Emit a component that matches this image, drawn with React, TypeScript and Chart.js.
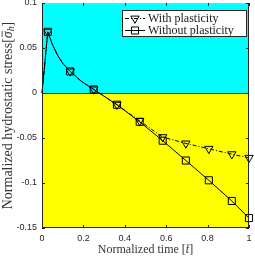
import React, { useEffect, useRef } from 'react';
import { Chart, registerables } from 'chart.js';

Chart.register(...registerables);

const timeValues = [0, 0.028, 0.05, 0.075, 0.1, 0.136, 0.19, 0.25, 0.362, 0.472, 0.583, 0.695, 0.806, 0.917, 1.0];
const withPlasticity = [0, 0.068, 0.054, 0.042, 0.033, 0.024, 0.013, 0.004, -0.013, -0.031, -0.049, -0.056, -0.062, -0.068, -0.072];
const withoutPlasticity = [0, 0.068, 0.054, 0.042, 0.033, 0.024, 0.013, 0.004, -0.013, -0.032, -0.053, -0.075, -0.097, -0.12, -0.139];
const markerIndices = [1, 5, 7, 8, 9, 10, 11, 12, 13, 14];
const seriesLabels = ['With plasticity', 'Without plasticity'];
const xTickValues = [0, 0.2, 0.4, 0.6, 0.8, 1];
const xTickLabels = ['0', '0.2', '0.4', '0.6', '0.8', '1'];
const yTickValues = [-0.15, -0.1, -0.05, 0, 0.05, 0.1];
const yTickLabels = ['-0.15', '-0.1', '-0.05', '0', '0.05', '0.1'];

const SERIF = '"Liberation Serif", serif';
const SANS = '"Liberation Sans", Arial, sans-serif';

type Piece = { text: string; italic?: boolean; bar?: boolean; sub?: boolean };

function drawPieces(ctx: CanvasRenderingContext2D, pieces: Piece[], size: number, cx: number, cy: number) {
  const fontFor = (p: Piece) => `${p.italic ? 'italic ' : ''}${p.sub ? size * 0.7 : size}px ${SERIF}`;
  let total = 0;
  const widths = pieces.map((p) => {
    ctx.font = fontFor(p);
    const w = ctx.measureText(p.text).width;
    total += w;
    return w;
  });
  let x = cx - total / 2;
  ctx.textBaseline = 'middle';
  ctx.textAlign = 'left';
  pieces.forEach((p, i) => {
    ctx.font = fontFor(p);
    const y = cy + (p.sub ? size * 0.25 : 0);
    ctx.fillText(p.text, x, y);
    if (p.bar) {
      ctx.save();
      ctx.lineWidth = 0.8;
      ctx.beginPath();
      ctx.moveTo(x + 1, cy - size * 0.42);
      ctx.lineTo(x + widths[i] + 0.5, cy - size * 0.42);
      ctx.stroke();
      ctx.restore();
    }
    x += widths[i];
  });
}

function drawMarker(ctx: CanvasRenderingContext2D, style: string, r: number, x: number, y: number) {
  ctx.beginPath();
  if (style === 'triangle') {
    const h = r;
    const w = r * Math.sqrt(3) / 2;
    ctx.moveTo(x - w, y - h / 2);
    ctx.lineTo(x + w, y - h / 2);
    ctx.lineTo(x, y + h);
    ctx.closePath();
  } else {
    const s = r * Math.SQRT1_2;
    ctx.rect(x - s, y - s, 2 * s, 2 * s);
  }
  ctx.stroke();
}

const backgroundPlugin = {
  id: 'bgRegions',
  beforeDatasetsDraw(chart: any) {
    const { ctx, chartArea, scales } = chart;
    const y0 = scales.y.getPixelForValue(0);
    ctx.save();
    ctx.fillStyle = '#00ffff';
    ctx.fillRect(chartArea.left, chartArea.top, chartArea.right - chartArea.left, y0 - chartArea.top);
    ctx.fillStyle = '#ffff00';
    ctx.fillRect(chartArea.left, y0, chartArea.right - chartArea.left, chartArea.bottom - y0);
    ctx.strokeStyle = '#3a3a3a';
    ctx.lineWidth = 1;
    ctx.beginPath();
    ctx.moveTo(chartArea.left, Math.round(y0) + 0.5);
    ctx.lineTo(chartArea.right, Math.round(y0) + 0.5);
    ctx.stroke();
    ctx.restore();
  },
};

const framePlugin = {
  id: 'frame',
  afterDatasetsDraw(chart: any) {
    const { ctx, chartArea, scales } = chart;
    const { left, right, top, bottom } = chartArea;
    ctx.save();
    ctx.strokeStyle = '#262626';
    ctx.lineWidth = 1;
    ctx.beginPath();
    ctx.moveTo(left + 0.5, top);
    ctx.lineTo(left + 0.5, bottom);
    ctx.moveTo(right - 0.5, top);
    ctx.lineTo(right - 0.5, bottom);
    ctx.moveTo(left, bottom - 0.5);
    ctx.lineTo(right, bottom - 0.5);
    ctx.stroke();
    ctx.strokeStyle = '#bdbdbd';
    ctx.beginPath();
    ctx.moveTo(left, top + 0.5);
    ctx.lineTo(right, top + 0.5);
    ctx.stroke();
    ctx.strokeStyle = '#262626';
    ctx.beginPath();
    xTickValues.forEach((v) => {
      const x = Math.round(scales.x.getPixelForValue(v)) + 0.5;
      ctx.moveTo(x, bottom);
      ctx.lineTo(x, bottom - 3);
      ctx.moveTo(x, top);
      ctx.lineTo(x, top + 3);
    });
    yTickValues.forEach((v) => {
      const y = Math.round(scales.y.getPixelForValue(v)) + 0.5;
      ctx.moveTo(left, y);
      ctx.lineTo(left + 3, y);
      ctx.moveTo(right, y);
      ctx.lineTo(right - 3, y);
    });
    ctx.stroke();
    ctx.restore();
  },
};

const annotationPlugin = {
  id: 'annotations',
  afterDraw(chart: any) {
    const { ctx, chartArea } = chart;
    ctx.save();
    ctx.fillStyle = '#333333';
    ctx.strokeStyle = '#333333';
    drawPieces(
      ctx,
      [{ text: 'Normalized time [' }, { text: 't', italic: true, bar: true }, { text: ']' }],
      12,
      (chartArea.left + chartArea.right) / 2,
      250
    );
    ctx.save();
    ctx.translate(8, (chartArea.top + chartArea.bottom) / 2);
    ctx.rotate(-Math.PI / 2);
    drawPieces(
      ctx,
      [
        { text: 'Normalized hydrostatic stress[' },
        { text: 'σ', italic: true, bar: true },
        { text: 'h', italic: true, sub: true },
        { text: ']' },
      ],
      14,
      0,
      0
    );
    ctx.restore();

    const bx = 122, by = 10, bw = 125, bh = 27;
    ctx.fillStyle = '#ffffff';
    ctx.fillRect(bx, by, bw, bh);
    ctx.strokeStyle = '#262626';
    ctx.lineWidth = 1;
    ctx.strokeRect(bx + 0.5, by + 0.5, bw - 1, bh - 1);
    const rows = [by + 8, by + 19.5];
    chart.data.datasets.forEach((ds: any, i: number) => {
      const ry = Math.round(rows[i]) + 0.5;
      ctx.save();
      ctx.strokeStyle = '#000';
      ctx.lineWidth = 1;
      ctx.setLineDash(ds.borderDash || []);
      ctx.beginPath();
      ctx.moveTo(bx + 3, ry);
      ctx.lineTo(bx + 23, ry);
      ctx.stroke();
      ctx.setLineDash([]);
      drawMarker(ctx, ds.pointStyle, ds.legendRadius, bx + 13, ry);
      ctx.restore();
      ctx.fillStyle = '#1a1a1a';
      ctx.font = `12px ${SERIF}`;
      ctx.textAlign = 'left';
      ctx.textBaseline = 'middle';
      ctx.fillText(seriesLabels[i], bx + 26, ry);
    });
    ctx.restore();
  },
};

export default function App() {
  const ref = useRef<HTMLCanvasElement>(null);
  useEffect(() => {
    document.body.style.margin = '0';
    const canvas = ref.current;
    if (!canvas) return;
    const markerRadius = (r: number) => (c: any) => (markerIndices.includes(c.dataIndex) ? r : 0);
    const chart = new Chart(canvas, {
      type: 'line',
      data: {
        datasets: [
          {
            label: seriesLabels[0],
            data: timeValues.map((t, i) => ({ x: t, y: withPlasticity[i] })),
            borderColor: '#000000',
            borderWidth: 1,
            borderDash: [4, 2, 1, 2],
            pointStyle: 'triangle',
            pointRotation: 180,
            pointRadius: markerRadius(4.8),
            pointBorderColor: '#000000',
            pointBackgroundColor: 'rgba(0,0,0,0)',
            pointBorderWidth: 1,
            tension: 0,
            clip: false,
            legendRadius: 4.8,
          } as any,
          {
            label: seriesLabels[1],
            data: timeValues.map((t, i) => ({ x: t, y: withoutPlasticity[i] })),
            borderColor: '#000000',
            borderWidth: 1,
            pointStyle: 'rect',
            pointRadius: markerRadius(5),
            pointBorderColor: '#000000',
            pointBackgroundColor: 'rgba(0,0,0,0)',
            pointBorderWidth: 1,
            tension: 0,
            clip: false,
            legendRadius: 5,
          } as any,
        ],
      },
      options: {
        responsive: false,
        devicePixelRatio: 1,
        animation: false,
        events: [],
        layout: { autoPadding: false, padding: { left: 0, right: 6, top: 3, bottom: 0 } },
        plugins: { legend: { display: false }, tooltip: { enabled: false } },
        scales: {
          x: {
            type: 'linear',
            min: 0,
            max: 1,
            afterBuildTicks: (s: any) => {
              s.ticks = xTickValues.map((v) => ({ value: v }));
            },
            afterFit: (s: any) => {
              s.height = 30;
              s.paddingLeft = 0;
              s.paddingRight = 0;
            },
            ticks: {
              callback: (_v: any, i: number) => xTickLabels[i],
              font: { family: SANS, size: 9 },
              color: '#262626',
              padding: 5,
              maxRotation: 0,
              autoSkip: false,
            },
            grid: { display: false, drawTicks: false },
            border: { display: false },
          },
          y: {
            type: 'linear',
            min: -0.15,
            max: 0.1,
            afterBuildTicks: (s: any) => {
              s.ticks = yTickValues.map((v) => ({ value: v }));
            },
            afterFit: (s: any) => {
              s.width = 42;
              s.paddingTop = 0;
              s.paddingBottom = 0;
            },
            ticks: {
              callback: (_v: any, i: number) => yTickLabels[i],
              font: { family: SANS, size: 9, lineHeight: 0.5 },
              color: '#262626',
              padding: 5,
              autoSkip: false,
            },
            grid: { display: false, drawTicks: false },
            border: { display: false },
          },
        },
      },
      plugins: [backgroundPlugin, framePlugin, annotationPlugin],
    });
    return () => chart.destroy();
  }, []);
  return (
    <div style={{ position: 'fixed', left: 0, top: 0, width: 255, height: 258, background: '#ffffff' }}>
      <canvas ref={ref} width={255} height={258} style={{ display: 'block', width: 255, height: 258 }} />
    </div>
  );
}
